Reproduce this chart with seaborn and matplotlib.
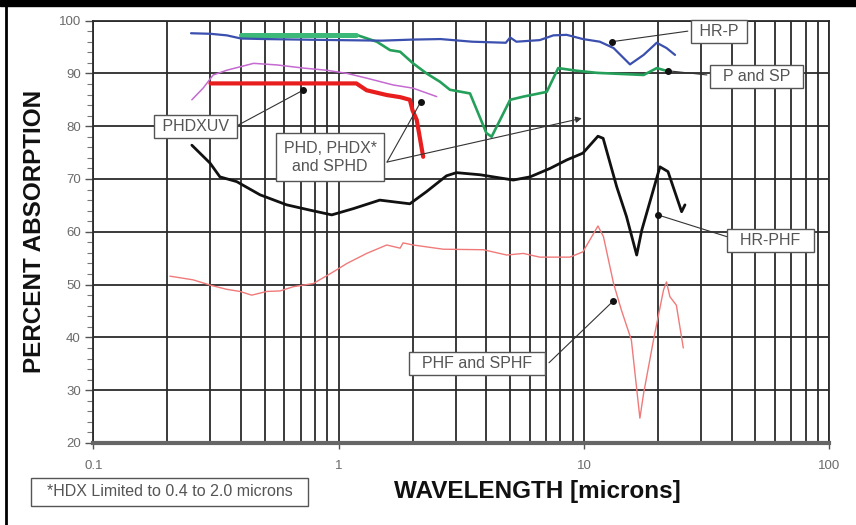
import numpy as np
import pandas as pd
import matplotlib
matplotlib.use("Agg")
import matplotlib.pyplot as plt
import seaborn as sns
from matplotlib.ticker import FixedLocator, MultipleLocator, NullFormatter, LogLocator
from matplotlib.patches import Rectangle
from matplotlib.lines import Line2D

# ---------------- data ----------------
hrp_x = [0.25, 0.30, 0.35, 0.40, 0.5, 0.7, 1.0, 1.5, 2.0, 2.6, 3.5, 4.8, 5.0, 5.3, 6.6, 7.5, 8.5,
         9.9, 11.6, 13.2, 15.4, 17.5, 19.8, 21.7, 23.5]
hrp_y = [97.6, 97.5, 97.2, 96.6, 96.5, 96.4, 96.3, 96.2, 96.4, 96.5, 96.0, 95.8, 96.8, 96.0, 96.3, 97.2, 97.3,
         96.5, 96.0, 94.8, 91.7, 93.5, 95.8, 94.8, 93.5]

psp_x = [0.40, 0.6, 0.9, 1.18, 1.43, 1.62, 1.78, 2.01, 2.28, 2.59, 2.84, 3.43, 4.0, 4.2, 4.34, 5.0, 5.66,
         7.05, 7.85, 9.34, 11.3, 17.5, 19.8, 22.4]
psp_y = [97.3, 97.3, 97.3, 97.3, 96.0, 94.4, 94.1, 91.9, 90.0, 88.4, 86.9, 86.2, 78.7, 78.0, 79.3, 85.0, 85.6,
         86.5, 91.0, 90.5, 90.1, 89.7, 91.0, 90.3]

phdxuv_x = [0.252, 0.28, 0.308, 0.35, 0.45, 0.56, 0.72, 0.89, 1.08, 1.30, 1.67, 2.01, 2.51]
phdxuv_y = [85.0, 87.2, 89.7, 90.6, 91.9, 91.6, 91.0, 90.6, 90.0, 89.1, 87.8, 87.2, 85.6]

phd_x = [0.30, 0.6, 1.18, 1.3, 1.57, 1.78, 1.95, 2.0, 2.08, 2.21]
phd_y = [88.1, 88.1, 88.1, 86.8, 85.9, 85.5, 85.0, 83.0, 81.2, 74.2]

hrphf_x = [0.252, 0.299, 0.328, 0.384, 0.478, 0.614, 0.764, 0.937, 1.15, 1.47, 1.95, 2.28, 2.75, 3.02,
           3.77, 5.15, 6.03, 7.27, 8.5, 9.9, 11.4, 11.97, 13.6, 14.9, 16.4, 17.2, 20.4, 22.0, 25.0, 25.8]
hrphf_y = [76.4, 73.0, 70.4, 69.5, 67.0, 65.1, 64.1, 63.2, 64.4, 66.0, 65.3, 67.6, 70.6, 71.2,
           70.8, 69.8, 70.4, 72.0, 73.6, 74.9, 78.1, 77.7, 68.5, 62.9, 55.6, 60.3, 72.3, 71.4, 63.8, 65.1]

phf_x = [0.205, 0.255, 0.299, 0.35, 0.396, 0.442, 0.509, 0.577, 0.653, 0.788, 0.95, 1.08, 1.30, 1.57,
         1.78, 1.83, 2.01, 2.67, 3.89, 4.84, 5.66, 6.6, 8.76, 9.9, 11.4, 12.0, 13.2, 14.2, 15.6, 16.9,
         17.5, 19.2, 21.1, 21.7, 22.4, 23.8, 25.4]
phf_y = [51.6, 50.9, 49.9, 49.1, 48.7, 48.0, 48.7, 48.8, 49.6, 50.2, 52.4, 54.0, 55.9, 57.5,
         56.9, 57.9, 57.5, 56.7, 56.6, 55.6, 55.9, 55.2, 55.2, 56.2, 61.1, 59.1, 50.2, 45.2, 39.5, 24.7,
         29.4, 39.5, 49.0, 50.5, 47.7, 46.1, 38.0]

x_ticks = [0.1, 1, 10, 100]
x_tick_labels = ["0.1", "1", "10", "100"]
y_ticks = [20, 30, 40, 50, 60, 70, 80, 90, 100]
y_tick_labels = ["20", "30", "40", "50", "60", "70", "80", "90", "100"]

# ---------------- figure ----------------
sns.set_style("white")
plt.rcParams["font.family"] = ["Liberation Sans", "DejaVu Sans"]

fig = plt.figure(figsize=(8.56, 5.25), dpi=100)
ax = fig.add_axes([0.1091, 0.1562, 0.8597, 0.8046])

GRID = "#2b2b2b"
series = [
    (phf_x, phf_y, "#f07a7a", 1.0),
    (hrphf_x, hrphf_y, "#111111", 2.0),
    (phdxuv_x, phdxuv_y, "#c46ad0", 1.1),
    (psp_x, psp_y, "#24a05a", 1.9),
    (psp_x[:4], psp_y[:4], "#3cb878", 3.6),   # thicker flat start of the green curve
    (hrp_x, hrp_y, "#3a4fae", 1.6),
    (phd_x, phd_y, "#e81e1e", 3.0),
]
for xs, ys, col, lw in series:
    sns.lineplot(x=xs, y=ys, ax=ax, color=col, linewidth=lw, sort=False, estimator=None)

ax.set_xscale("log")
ax.set_xlim(0.1, 100)
ax.set_ylim(20, 100)
ax.xaxis.set_major_locator(FixedLocator(x_ticks))
ax.set_xticklabels(x_tick_labels)
ax.xaxis.set_minor_locator(LogLocator(base=10, subs=range(2, 10)))
ax.xaxis.set_minor_formatter(NullFormatter())
ax.yaxis.set_major_locator(FixedLocator(y_ticks))
ax.set_yticklabels(y_tick_labels)
ax.yaxis.set_minor_locator(MultipleLocator(2))

ax.set_axisbelow(True)
ax.grid(True, which="major", axis="both", color=GRID, lw=1.3)
ax.grid(True, which="minor", axis="x", color=GRID, lw=1.3)

ax.tick_params(axis="y", which="major", left=True, length=6, width=1, color="#555555",
               labelsize=9.5, labelcolor="#6a6a6a", pad=3)
ax.tick_params(axis="y", which="minor", left=True, length=4, width=0.8, color="#777777")
ax.tick_params(axis="x", which="major", bottom=True, length=4, width=1, color="#555555",
               labelsize=9.5, labelcolor="#6a6a6a", pad=8)
ax.tick_params(axis="x", which="minor", bottom=False, length=0)

for side in ["top", "right", "left"]:
    ax.spines[side].set_color(GRID)
    ax.spines[side].set_linewidth(1.3)
ax.spines["bottom"].set_color("#666666")
ax.spines["bottom"].set_linewidth(3)

ax.set_xlabel("WAVELENGTH [microns]", fontsize=17.5, fontweight="bold", color="#111111")
ax.set_ylabel("PERCENT ABSORPTION", fontsize=17.5, fontweight="bold", color="#111111")
ax.xaxis.set_label_coords(0.603, -0.088)
ax.yaxis.set_label_coords(-0.064, 0.502)

# ---------------- annotations ----------------
TXT = "#555555"
labels = [
    (" HR-P ", (35.5, 98.0), 0.25),
    ("  P and SP  ", (50.7, 89.5), 0.25),
    (" PHDXUV ", (0.2606, 80.0), 0.25),
    ("PHD, PHDX*\nand SPHD", (0.922, 74.1), 0.45),
    ("  HR-PHF  ", (57.6, 58.3), 0.25),
    ("  PHF and SPHF  ", (3.66, 35.1), 0.25),
]
for txt, pos, pad in labels:
    ax.text(pos[0], pos[1], txt, ha="center", va="center", fontsize=11.5, color=TXT,
            bbox=dict(boxstyle=f"square,pad={pad}", fc="white", ec="#555555", lw=1),
            zorder=5, linespacing=1.3)

arrows = [
    ((26.5, 98.0), (13.0, 96.0), "dot"),
    ((31.7, 89.7), (22.0, 90.5), "dot"),
    ((0.389, 80.2), (0.715, 86.8), "dot"),
    ((1.574, 73.2), (2.16, 84.6), "dot"),
    ((1.574, 73.2), (9.8, 81.5), "head"),
    ((38.7, 59.0), (20.0, 63.2), "dot"),
    ((7.2, 35.2), (13.1, 46.8), "dot"),
]
for start, tip, kind in arrows:
    style = "-|>" if kind == "head" else "-"
    ax.annotate("", xy=tip, xytext=start, zorder=4,
                arrowprops=dict(arrowstyle=style, color="#333333", lw=0.8,
                                shrinkA=0, shrinkB=0, mutation_scale=9))
    if kind == "dot":
        ax.plot([tip[0]], [tip[1]], marker="o", ms=4, color="#111111", zorder=6)

fig.text(0.198, 0.0629, "  *HDX Limited to 0.4 to 2.0 microns  ", ha="center", va="center",
         fontsize=11.5, color=TXT,
         bbox=dict(boxstyle="square,pad=0.4", fc="white", ec="#555555", lw=1))

# page frame from the reference (black band on top, line on the left)
fig.patches.append(Rectangle((0, 1 - 6 / 525), 1, 6 / 525, transform=fig.transFigure,
                             color="black", zorder=10))
fig.lines.append(Line2D([6 / 856, 6 / 856], [0, 1], transform=fig.transFigure,
                        color="black", lw=2, zorder=10))

fig.savefig("out.png", dpi=100)
